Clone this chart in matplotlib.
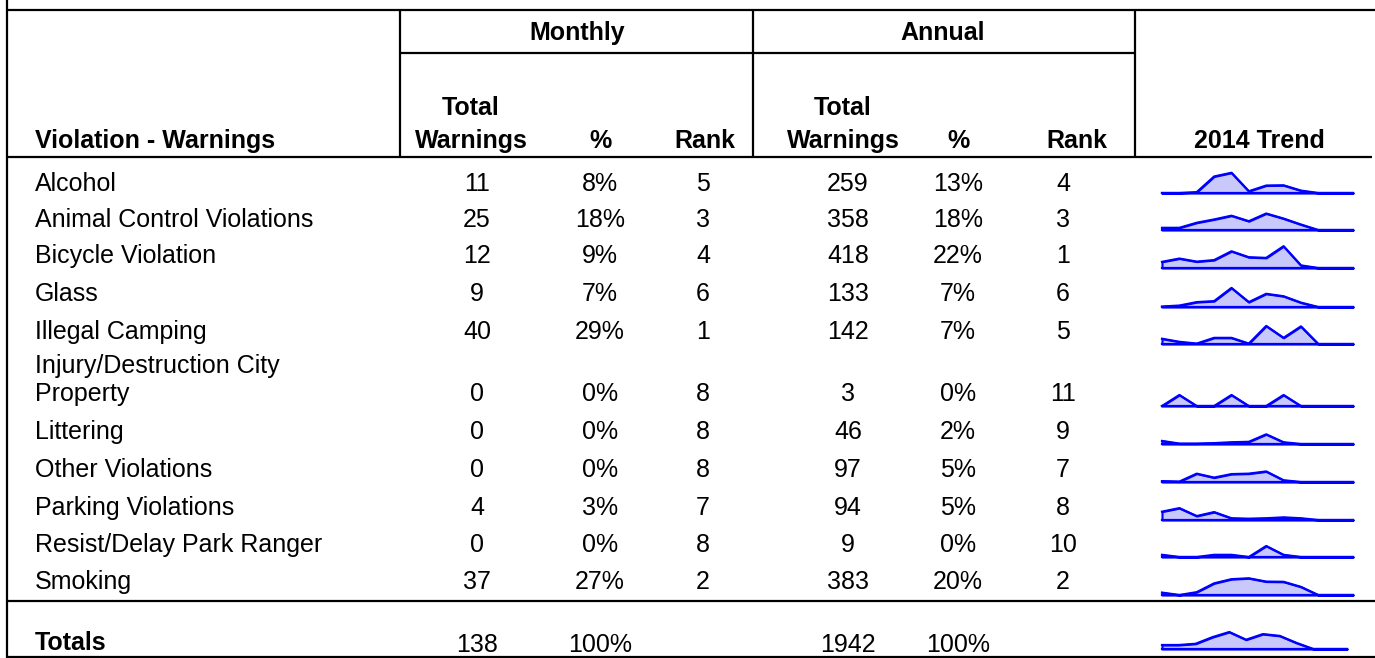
import matplotlib
matplotlib.use("Agg")
import matplotlib.pyplot as plt

plt.rcParams['font.family'] = ['Liberation Sans', 'DejaVu Sans']

# table data
violations = ["Alcohol", "Animal Control Violations", "Bicycle Violation", "Glass",
              "Illegal Camping", "Injury/Destruction City\nProperty", "Littering",
              "Other Violations", "Parking Violations", "Resist/Delay Park Ranger", "Smoking"]
monthly_total = [11, 25, 12, 9, 40, 0, 0, 0, 4, 0, 37]
monthly_pct = ["8%", "18%", "9%", "7%", "29%", "0%", "0%", "0%", "3%", "0%", "27%"]
monthly_rank = [5, 3, 4, 6, 1, 8, 8, 8, 7, 8, 2]
annual_total = [259, 358, 418, 133, 142, 3, 46, 97, 94, 9, 383]
annual_pct = ["13%", "18%", "22%", "7%", "7%", "0%", "2%", "5%", "5%", "0%", "20%"]
annual_rank = [4, 3, 1, 6, 5, 11, 9, 7, 8, 10, 2]
totals_row = ["138", "100%", "1942", "100%"]

# 2014 monthly trend (Jan..Dec)
trend = [
    [0, 0, 4, 75, 92, 8, 34, 35, 11, 0, 0, 0],
    [10, 10, 33, 48, 65, 40, 75, 52, 25, 0, 0, 0],
    [28, 43, 29, 36, 76, 49, 46, 99, 12, 0, 0, 0],
    [1, 3, 10, 12, 39, 10, 27, 22, 9, 0, 0, 0],
    [12, 5, 1, 14, 14, 1, 41, 14, 40, 0, 0, 0],
    [0, 1, 0, 0, 1, 0, 0, 1, 0, 0, 0, 0],
    [7, 1, 1, 2, 4, 5, 22, 4, 0, 0, 0, 0],
    [2, 1, 19, 10, 18, 19, 24, 4, 0, 0, 0, 0],
    [19, 27, 9, 18, 4, 3, 4, 6, 4, 0, 0, 0],
    [1, 0, 0, 1, 1, 0, 5, 1, 0, 0, 0, 0],
    [11, 0, 13, 53, 72, 76, 61, 60, 37, 0, 0, 0],
]
trend_ymax = [100, 100, 100, 45, 50, 2, 50, 50, 50, 10, 100]
total_ymax = 500
total_trend = [sum(col) for col in zip(*trend)]

W, H = 1375, 658
fig = plt.figure(figsize=(W / 100, H / 100), dpi=100)
ax = fig.add_axes([0, 0, 1, 1])
ax.set_xlim(0, W)
ax.set_ylim(H, 0)
ax.axis('off')

FS = 18
LW = 1.6


def hline(y, x0, x1):
    ax.plot([x0, x1], [y, y], color='black', lw=LW, solid_capstyle='butt')


def vline(x, y0, y1):
    ax.plot([x, x], [y0, y1], color='black', lw=LW, solid_capstyle='butt')


# grid lines
vline(7, 0, H)
hline(10, 7, W)
vline(400, 10, 157)
vline(753, 10, 157)
vline(1135, 10, 157)
hline(53, 400, 1135)
hline(157, 7, 1372)
hline(601, 7, W)
hline(657, 7, W)

# headers
bold = dict(fontsize=FS, fontweight='bold', va='baseline')
ax.text(577, 40, "Monthly", ha='center', **bold)
ax.text(943, 40, "Annual", ha='center', **bold)
ax.text(35, 148, "Violation - Warnings", ha='left', **bold)
for cx, rx, px in [(471, 705, 601), (843, 1077, 959)]:
    ax.text(cx, 115, "Total", ha='center', **bold)
    ax.text(cx, 148, "Warnings", ha='center', **bold)
    ax.text(px, 148, "%", ha='center', **bold)
    ax.text(rx, 148, "Rank", ha='center', **bold)
ax.text(1259, 148, "2014 Trend", ha='center', **bold)

# body rows
row_base = [191, 227, 263, 301, 339, 401, 439, 477, 515, 552, 589]
col_x = [477, 600, 703, 848, 958, 1063]
norm = dict(fontsize=FS, va='baseline')
for i, name in enumerate(violations):
    lines = name.split("\n")
    for j, part in enumerate(lines):
        ax.text(35, row_base[i] - 28 * (len(lines) - 1 - j), part, ha='left', **norm)
    vals = [monthly_total[i], monthly_pct[i], monthly_rank[i],
            annual_total[i], annual_pct[i], annual_rank[i]]
    for x, v in zip(col_x, vals):
        ax.text(x, row_base[i], str(v), ha='center', **norm)

ax.text(35, 650, "Totals", ha='left', **bold)
for x, v in zip([col_x[0], col_x[1], col_x[3], col_x[4]], totals_row):
    ax.text(x, 652, v, ha='center', **norm)

# sparklines
spark_base = [193, 230, 268, 307, 344, 406, 444, 482, 520, 557, 595]
SX0, SX1, SH = 1162, 1353, 22
BLUE = '#0000ff'
FILL = '#c8c8fa'
months = list(range(12))


def sparkline(vals, ymax, base, x0=SX0, x1=SX1):
    sax = fig.add_axes([x0 / W, (H - base) / H, (x1 - x0) / W, SH / H])
    sax.fill_between(months, vals, 0, facecolor=FILL, edgecolor=BLUE, lw=1.5, clip_on=False)
    sax.plot(months, vals, color=BLUE, lw=1.6, clip_on=False)
    sax.axhline(0, color=BLUE, lw=1.6, clip_on=False)
    sax.set_xlim(0, 11)
    sax.set_ylim(0, ymax)
    sax.axis('off')


for vals, ymax, base in zip(trend, trend_ymax, spark_base):
    sparkline(vals, ymax, base)
sparkline(total_trend, total_ymax, 649, SX0, 1347)

fig.savefig("out.png", dpi=100)
